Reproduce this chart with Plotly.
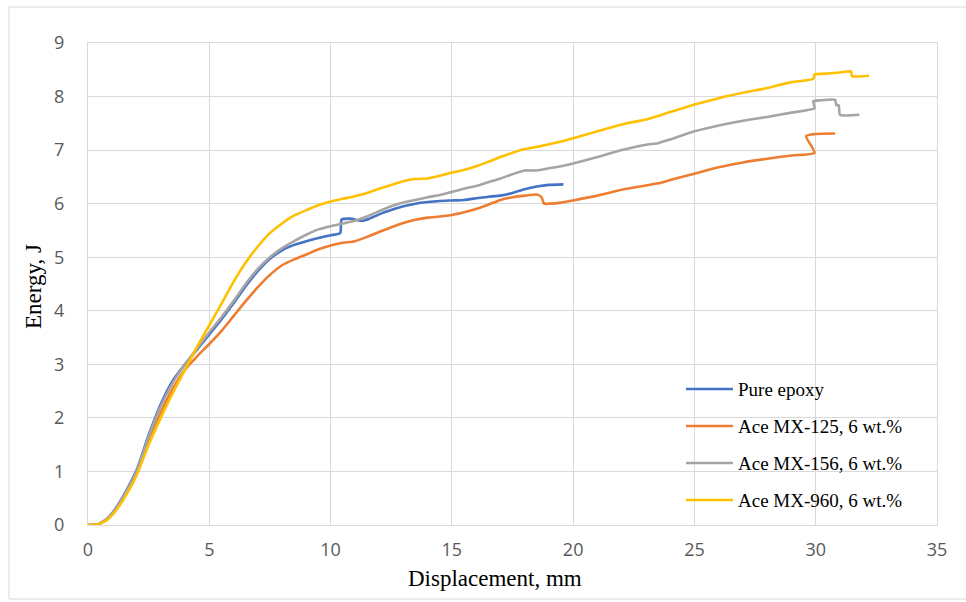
import plotly.graph_objects as go

# ---------------- data ----------------
series_names = ["Pure epoxy", "Ace MX-125, 6 wt.%", "Ace MX-156, 6 wt.%", "Ace MX-960, 6 wt.%"]
series_colors = ["#4472C4", "#ED7D31", "#A5A5A5", "#FFC000"]

epoxy_x = [0, 0.4, 0.8, 1.2, 1.6, 2.0, 2.5, 3.0, 3.5, 4.0, 4.5, 5.0, 5.5, 6.0, 6.5, 7.0, 7.5, 8.0,
           8.5, 9.0, 9.5, 10.0, 10.4, 10.45, 10.8, 11.3, 11.6, 12.0, 12.5, 13.0, 13.5, 14.0, 14.5,
           15.0, 15.5, 16.0, 16.5, 17.0, 17.5, 18.0, 18.5, 19.0, 19.6]
epoxy_y = [0, 0.01, 0.12, 0.35, 0.66, 1.02, 1.68, 2.26, 2.7, 3.0, 3.28, 3.56, 3.84, 4.14, 4.46, 4.74,
           4.97, 5.13, 5.23, 5.3, 5.36, 5.41, 5.45, 5.7, 5.72, 5.68, 5.72, 5.8, 5.88, 5.95, 6.0, 6.03,
           6.05, 6.06, 6.07, 6.1, 6.13, 6.15, 6.2, 6.27, 6.32, 6.35, 6.36]

mx125_x = [0, 0.4, 0.8, 1.2, 1.6, 2.0, 2.5, 3.0, 3.5, 4.0, 4.5, 5.0, 5.5, 6.0, 6.5, 7.0, 7.5, 8.0,
           8.5, 9.0, 9.5, 10.0, 10.5, 11.0, 11.5, 12.0, 12.5, 13.0, 13.5, 14.0, 14.5, 15.0, 15.5,
           16.0, 16.5, 17.0, 17.5, 18.0, 18.5, 18.7, 18.8, 19.0, 19.5, 20.0, 21.0, 22.0, 23.0, 23.5,
           24.0, 25.0, 26.0, 27.0, 28.0, 29.0, 29.95, 29.6, 30.0, 30.8]
mx125_y = [0, 0.01, 0.11, 0.33, 0.62, 0.97, 1.58, 2.1, 2.55, 2.9, 3.15, 3.38, 3.62, 3.9, 4.18, 4.44,
           4.67, 4.85, 4.96, 5.05, 5.15, 5.22, 5.27, 5.3, 5.38, 5.47, 5.56, 5.64, 5.7, 5.74, 5.76,
           5.79, 5.84, 5.9, 5.98, 6.07, 6.12, 6.15, 6.17, 6.12, 6.0, 6.0, 6.02, 6.06, 6.15, 6.26,
           6.34, 6.38, 6.44, 6.56, 6.68, 6.77, 6.84, 6.9, 6.95, 7.26, 7.3, 7.31]

mx156_x = [0, 0.4, 0.8, 1.2, 1.6, 2.0, 2.5, 3.0, 3.5, 4.0, 4.5, 5.0, 5.5, 6.0, 6.5, 7.0, 7.5, 8.0,
           8.5, 9.0, 9.5, 10.0, 10.5, 11.0, 11.5, 12.0, 12.5, 13.0, 13.5, 14.0, 14.5, 15.0, 15.5,
           16.0, 16.5, 17.0, 17.5, 18.0, 18.5, 19.0, 19.5, 20.0, 21.0, 22.0, 23.0, 23.5, 24.0, 25.0,
           26.0, 27.0, 28.0, 29.0, 29.95, 29.9, 30.2, 30.8, 30.85, 30.95, 31.0, 31.8]
mx156_y = [0, 0.01, 0.11, 0.34, 0.64, 1.0, 1.65, 2.22, 2.66, 3.0, 3.3, 3.6, 3.88, 4.18, 4.5, 4.78,
           5.0, 5.17, 5.3, 5.42, 5.52, 5.58, 5.63, 5.68, 5.76, 5.86, 5.95, 6.02, 6.07, 6.12, 6.16,
           6.22, 6.28, 6.33, 6.4, 6.47, 6.55, 6.62, 6.62, 6.66, 6.7, 6.75, 6.87, 7.0, 7.1, 7.13, 7.2,
           7.35, 7.46, 7.55, 7.62, 7.7, 7.78, 7.91, 7.93, 7.94, 7.84, 7.84, 7.66, 7.66]

mx960_x = [0, 0.4, 0.8, 1.2, 1.6, 2.0, 2.5, 3.0, 3.5, 4.0, 4.5, 5.0, 5.5, 6.0, 6.5, 7.0, 7.5, 8.0,
           8.5, 9.0, 9.5, 10.0, 10.5, 11.0, 11.5, 12.0, 12.5, 13.0, 13.5, 14.0, 14.5, 15.0, 15.5,
           16.0, 16.5, 17.0, 17.5, 18.0, 18.5, 19.0, 19.5, 20.0, 21.0, 22.0, 23.0, 24.0, 25.0, 26.0,
           27.0, 28.0, 29.0, 29.9, 29.95, 30.5, 31.0, 31.45, 31.5, 32.2]
mx960_y = [0, 0.01, 0.1, 0.3, 0.58, 0.92, 1.5, 2.0, 2.47, 2.9, 3.33, 3.73, 4.13, 4.54, 4.9, 5.2,
           5.45, 5.63, 5.78, 5.88, 5.97, 6.04, 6.09, 6.14, 6.2, 6.28, 6.35, 6.42, 6.46, 6.47, 6.52,
           6.58, 6.63, 6.7, 6.78, 6.87, 6.95, 7.02, 7.06, 7.11, 7.16, 7.22, 7.35, 7.48, 7.57, 7.71,
           7.85, 7.97, 8.07, 8.16, 8.27, 8.33, 8.41, 8.43, 8.45, 8.47, 8.38, 8.39]

x_title = "Displacement, mm"
y_title = "Energy, J"
x_ticks = [0, 5, 10, 15, 20, 25, 30, 35]
y_ticks = [0, 1, 2, 3, 4, 5, 6, 7, 8, 9]

# ---------------- layout helpers ----------------
W, H = 966, 602
L, R, T, B = 88, 937, 43, 525


def px_x(p):
    return (p - L) / (R - L)


def px_y(p):
    return (B - p) / (B - T)


fig = go.Figure()
all_x = [epoxy_x, mx125_x, mx156_x, mx960_x]
all_y = [epoxy_y, mx125_y, mx156_y, mx960_y]
for name, color, xs, ys in zip(series_names, series_colors, all_x, all_y):
    fig.add_trace(go.Scatter(x=xs, y=ys, mode="lines", name=name,
                             line=dict(color=color, width=2.6, shape="spline", smoothing=0.5),
                             showlegend=False))

grid = "#D9D9D9"
tickfont = dict(family="Open Sans", size=18, color="#595959")
fig.update_xaxes(range=[0, 35], tickvals=x_ticks, showgrid=True, gridcolor=grid, gridwidth=1,
                 zeroline=False, showline=True, linecolor=grid, mirror=True,
                 ticks="", tickfont=tickfont, ticklabelstandoff=8)
fig.update_yaxes(range=[0, 9], tickvals=y_ticks, showgrid=True, gridcolor=grid, gridwidth=1,
                 zeroline=False, showline=True, linecolor=grid, mirror=True,
                 ticks="", tickfont=tickfont, ticklabelstandoff=19)

annotations = [
    dict(x=px_x(495), y=px_y(578), xref="paper", yref="paper", text=x_title, showarrow=False,
         xanchor="center", yanchor="middle",
         font=dict(family="Liberation Serif", size=23, color="#000000")),
    dict(x=px_x(33), y=px_y(287), xref="paper", yref="paper", text=y_title, showarrow=False,
         textangle=-90, xanchor="center", yanchor="middle",
         font=dict(family="Liberation Serif", size=23, color="#000000")),
]
shapes = [
    dict(type="rect", xref="paper", yref="paper", x0=px_x(9), x1=px_x(975), y0=px_y(599),
         y1=px_y(7), line=dict(color="#D9D9D9", width=1), layer="below"),
]
legend_y = [389, 426, 463, 500]
for name, color, ly in zip(series_names, series_colors, legend_y):
    shapes.append(dict(type="line", xref="paper", yref="paper", x0=px_x(686), x1=px_x(733),
                       y0=px_y(ly), y1=px_y(ly), line=dict(color=color, width=2.6)))
    annotations.append(dict(x=px_x(736), y=px_y(ly), xref="paper", yref="paper", text=name,
                            showarrow=False, xanchor="left", yanchor="middle",
                            font=dict(family="Liberation Serif", size=19, color="#000000")))

fig.update_layout(width=W, height=H, margin=dict(l=L, r=W - R, t=T, b=H - B),
                  paper_bgcolor="white", plot_bgcolor="white", showlegend=False,
                  annotations=annotations, shapes=shapes)

fig.write_html("out.html")
